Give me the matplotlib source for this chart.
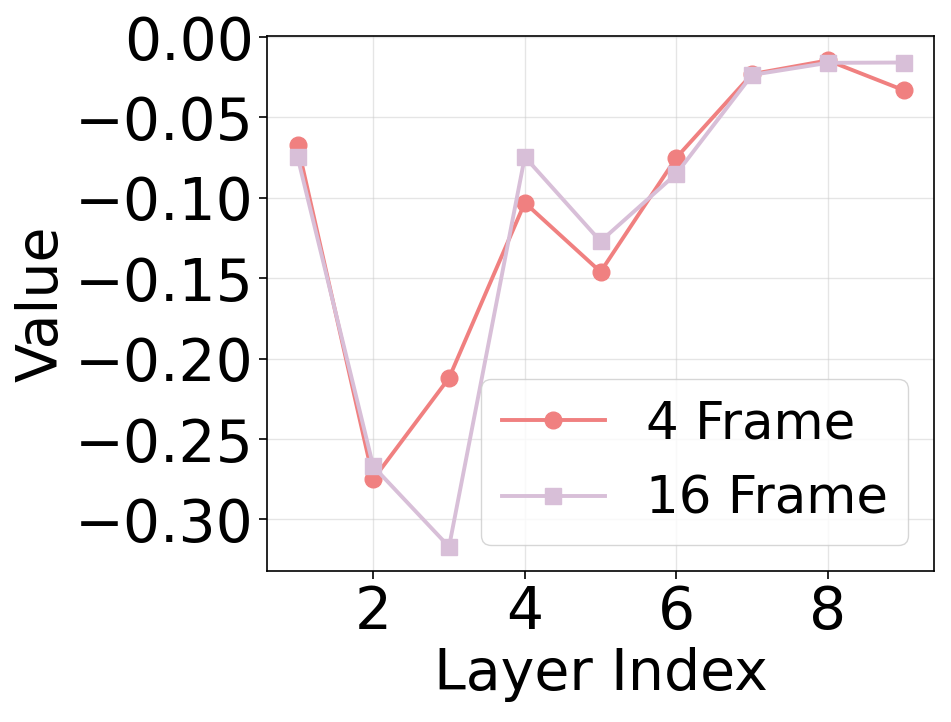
import matplotlib
matplotlib.use("Agg")
import matplotlib.pyplot as plt
from matplotlib.ticker import FuncFormatter

layers = [1, 2, 3, 4, 5, 6, 7, 8, 9]
frame4 = [-0.067, -0.275, -0.212, -0.103, -0.146, -0.075, -0.023, -0.0145, -0.033]
frame16 = [-0.0745, -0.267, -0.317, -0.0745, -0.127, -0.085, -0.0235, -0.016, -0.0158]
series_labels = ["4 Frame", "16 Frame"]
colors = ["#F08080", "#D8BFD8"]

fig = plt.figure(figsize=(9.51, 7.22), dpi=100)
ax = fig.add_axes([0.281, 0.209, 0.701, 0.741])

ax.plot(layers, frame4, marker="o", color=colors[0], linewidth=2.8, markersize=12, label=series_labels[0])
ax.plot(layers, frame16, marker="s", color=colors[1], linewidth=2.8, markersize=12, label=series_labels[1])

ax.grid(True, color="#cccccc", alpha=0.5, linewidth=1)
ax.set_axisbelow(True)
ax.tick_params(axis="both", labelsize=42, length=6, width=1.2)
ax.set_xlabel("Layer Index", fontsize=41)
ax.set_ylabel("Value", fontsize=41)
ax.set_xticks([2, 4, 6, 8])
ax.set_yticks([0.0, -0.05, -0.10, -0.15, -0.20, -0.25, -0.30])
ax.yaxis.set_major_formatter(FuncFormatter(lambda v, p: f"{v:.2f}".replace("-", "\u2212") if abs(v) > 1e-9 else "0.00"))
for s in ax.spines.values():
    s.set_linewidth(1.2)

leg = ax.legend(loc="lower right", fontsize=37, frameon=True, fancybox=True, framealpha=0.8,
                edgecolor="#cccccc", handlelength=2.0)

fig.savefig("out.png", dpi=100)
